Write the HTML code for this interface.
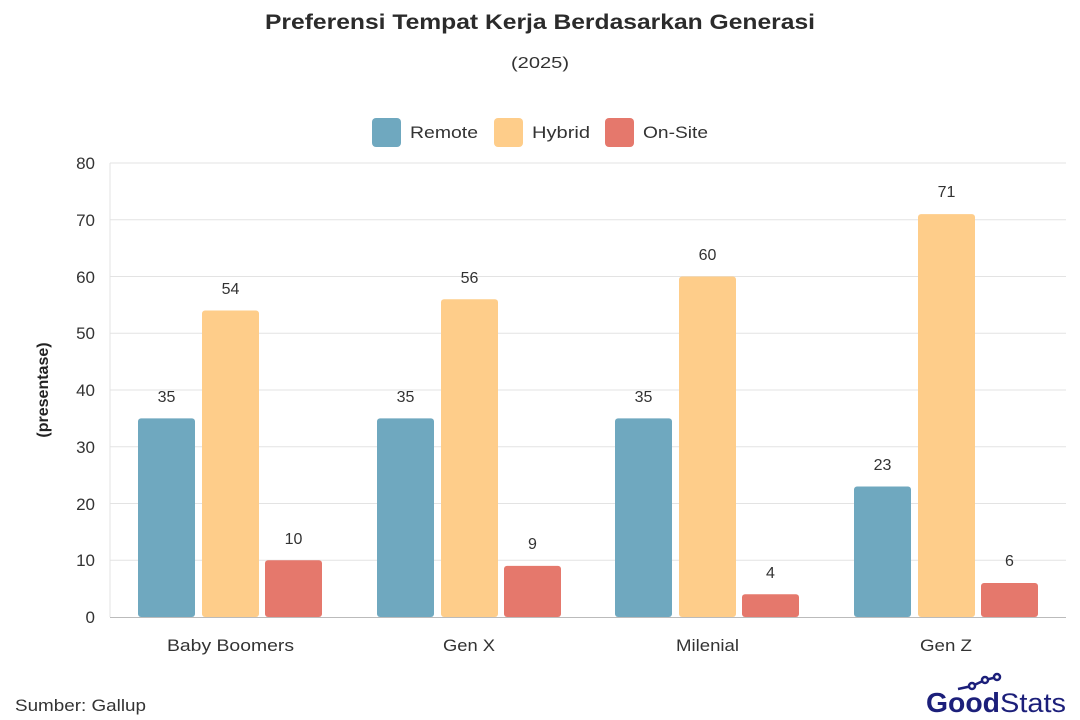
<!DOCTYPE html><html><head><meta charset="utf-8"><style>body{margin:0;background:#fff}svg{display:block;font-family:"Liberation Sans",sans-serif}</style></head><body>
<svg width="1080" height="720" viewBox="0 0 1080 720">
<text x="265" y="29" textLength="550" lengthAdjust="spacingAndGlyphs" font-size="21" font-weight="bold" fill="#2b2b2b">Preferensi Tempat Kerja Berdasarkan Generasi</text>
<text x="511" y="68" textLength="58" lengthAdjust="spacingAndGlyphs" font-size="16" fill="#333">(2025)</text>
<rect x="372" y="118" width="29" height="29" rx="4" fill="#6fa8bf"/><text x="410" y="138" textLength="68" lengthAdjust="spacingAndGlyphs" font-size="17" fill="#333">Remote</text>
<rect x="494" y="118" width="29" height="29" rx="4" fill="#fecd8a"/><text x="532" y="138" textLength="58" lengthAdjust="spacingAndGlyphs" font-size="17" fill="#333">Hybrid</text>
<rect x="605" y="118" width="29" height="29" rx="4" fill="#e5786c"/><text x="643" y="138" textLength="65" lengthAdjust="spacingAndGlyphs" font-size="17" fill="#333">On-Site</text>
<g stroke="#e3e3e3" stroke-width="1">
<line x1="110" x2="1066" y1="163" y2="163"/><line x1="110" x2="1066" y1="219.75" y2="219.75"/><line x1="110" x2="1066" y1="276.5" y2="276.5"/><line x1="110" x2="1066" y1="333.25" y2="333.25"/><line x1="110" x2="1066" y1="390" y2="390"/><line x1="110" x2="1066" y1="446.75" y2="446.75"/><line x1="110" x2="1066" y1="503.5" y2="503.5"/><line x1="110" x2="1066" y1="560.25" y2="560.25"/>
<line x1="110" x2="110" y1="163" y2="617"/></g>
<line x1="110" x2="1066" y1="617.5" y2="617.5" stroke="#bbb"/>
<g font-size="17" fill="#333" text-anchor="end">
<text x="95" y="169">80</text><text x="95" y="226">70</text><text x="95" y="283">60</text><text x="95" y="339">50</text><text x="95" y="396">40</text><text x="95" y="453">30</text><text x="95" y="510">20</text><text x="95" y="566">10</text><text x="95" y="623">0</text></g>
<text transform="translate(48,390) rotate(-90)" text-anchor="middle" font-size="16" font-weight="bold" fill="#222">(presentase)</text>
<g>
<rect x="138" y="418.4" width="57" height="198.6" rx="3" fill="#6fa8bf"/>
<rect x="202" y="310.5" width="57" height="306.5" rx="3" fill="#fecd8a"/>
<rect x="265" y="560.25" width="57" height="56.75" rx="3" fill="#e5786c"/>
<rect x="377" y="418.4" width="57" height="198.6" rx="3" fill="#6fa8bf"/>
<rect x="441" y="299.2" width="57" height="317.8" rx="3" fill="#fecd8a"/>
<rect x="504" y="565.9" width="57" height="51.1" rx="3" fill="#e5786c"/>
<rect x="615" y="418.4" width="57" height="198.6" rx="3" fill="#6fa8bf"/>
<rect x="679" y="276.5" width="57" height="340.5" rx="3" fill="#fecd8a"/>
<rect x="742" y="594.3" width="57" height="22.7" rx="3" fill="#e5786c"/>
<rect x="854" y="486.5" width="57" height="130.5" rx="3" fill="#6fa8bf"/>
<rect x="918" y="214.1" width="57" height="402.9" rx="3" fill="#fecd8a"/>
<rect x="981" y="583" width="57" height="34" rx="3" fill="#e5786c"/>
</g>
<g font-size="16" fill="#333" text-anchor="middle">
<text x="166.5" y="402">35</text><text x="230.5" y="294">54</text><text x="293.5" y="544">10</text>
<text x="405.5" y="402">35</text><text x="469.5" y="283">56</text><text x="532.5" y="549">9</text>
<text x="643.5" y="402">35</text><text x="707.5" y="260">60</text><text x="770.5" y="578">4</text>
<text x="882.5" y="470">23</text><text x="946.5" y="197">71</text><text x="1009.5" y="566">6</text>
</g>
<g font-size="17" fill="#333">
<text x="167" y="651" textLength="127" lengthAdjust="spacingAndGlyphs">Baby Boomers</text><text x="443" y="651" textLength="52" lengthAdjust="spacingAndGlyphs">Gen X</text><text x="676" y="651" textLength="63" lengthAdjust="spacingAndGlyphs">Milenial</text><text x="920" y="651" textLength="52" lengthAdjust="spacingAndGlyphs">Gen Z</text></g>
<text x="15" y="711" font-size="17" fill="#333" textLength="131" lengthAdjust="spacingAndGlyphs">Sumber: Gallup</text>
<g stroke="#1c1f7a" stroke-width="2.5" fill="#fff"><polyline points="958,689 972,686 985,680 997,677" fill="none"/><circle cx="972" cy="686" r="3"/><circle cx="985" cy="680" r="3"/><circle cx="997" cy="677" r="3"/></g>
<text x="926" y="712" font-size="28" font-weight="bold" fill="#1c1f7a" textLength="74" lengthAdjust="spacingAndGlyphs">Good</text>
<text x="1000" y="712" font-size="27" fill="#1c1f7a" textLength="66" lengthAdjust="spacingAndGlyphs">Stats</text>
</svg></body></html>
